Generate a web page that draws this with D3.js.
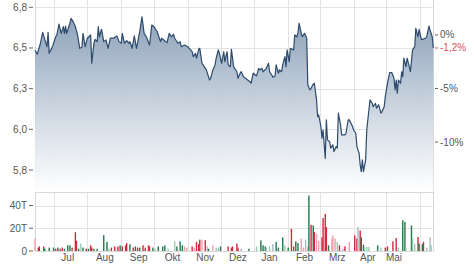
<!DOCTYPE html>
<html><head><meta charset="utf-8">
<script src="https://cdn.jsdelivr.net/npm/d3@7"></script>
<style>
body{margin:0;background:#fff;}
svg{display:block;}
text{font-family:"Liberation Sans",Arial,sans-serif;font-size:10px;fill:#555;}
</style>
</head><body>
<svg id="chart" width="474" height="269"></svg>
<script>
// ---------- DATA ----------
const priceDates = [
"2019-06-14","2019-06-16","2019-06-19","2019-06-21","2019-06-25","2019-06-26","2019-06-27","2019-06-30",
"2019-07-03","2019-07-04","2019-07-06","2019-07-08","2019-07-10","2019-07-11","2019-07-12","2019-07-13","2019-07-16","2019-07-17","2019-07-19","2019-07-21","2019-07-23","2019-07-25","2019-07-27","2019-07-28","2019-07-30",
"2019-08-01","2019-08-04","2019-08-05","2019-08-07","2019-08-08","2019-08-10","2019-08-11","2019-08-12","2019-08-14","2019-08-16","2019-08-18","2019-08-20","2019-08-22","2019-08-25","2019-08-28","2019-08-30",
"2019-09-01","2019-09-02","2019-09-04","2019-09-06","2019-09-08","2019-09-09","2019-09-11","2019-09-13","2019-09-15","2019-09-18","2019-09-20","2019-09-22","2019-09-24","2019-09-27","2019-09-29",
"2019-10-01","2019-10-04","2019-10-07","2019-10-08","2019-10-10","2019-10-13","2019-10-15","2019-10-17","2019-10-19","2019-10-20","2019-10-23","2019-10-25","2019-10-26","2019-10-29",
"2019-11-01","2019-11-05","2019-11-06","2019-11-08","2019-11-09","2019-11-11","2019-11-12","2019-11-14","2019-11-15","2019-11-18","2019-11-21","2019-11-22","2019-11-24","2019-11-26","2019-11-27","2019-11-29","2019-11-30",
"2019-12-02","2019-12-04","2019-12-05","2019-12-07","2019-12-08","2019-12-10","2019-12-11","2019-12-13","2019-12-16","2019-12-17","2019-12-19","2019-12-20","2019-12-22","2019-12-25","2019-12-28","2019-12-29","2019-12-31",
"2020-01-03","2020-01-05","2020-01-06","2020-01-08","2020-01-09","2020-01-12","2020-01-14","2020-01-15","2020-01-17","2020-01-18","2020-01-20","2020-01-21","2020-01-23","2020-01-24","2020-01-26","2020-01-27","2020-01-29","2020-01-30","2020-01-31",
"2020-02-02","2020-02-03","2020-02-06","2020-02-07","2020-02-09","2020-02-10","2020-02-11","2020-02-13","2020-02-14","2020-02-16","2020-02-18","2020-02-19","2020-02-21","2020-02-22","2020-02-24","2020-02-25","2020-02-27","2020-02-28","2020-02-29",
"2020-03-02","2020-03-03","2020-03-04","2020-03-06","2020-03-07","2020-03-08","2020-03-10","2020-03-11","2020-03-13","2020-03-14","2020-03-16","2020-03-17","2020-03-18","2020-03-20","2020-03-21","2020-03-24","2020-03-25","2020-03-27","2020-03-28","2020-03-31",
"2020-04-01","2020-04-03","2020-04-04","2020-04-06","2020-04-07","2020-04-08","2020-04-09","2020-04-10","2020-04-12","2020-04-13","2020-04-15","2020-04-16","2020-04-18","2020-04-19","2020-04-21","2020-04-22","2020-04-24","2020-04-26","2020-04-27","2020-04-29","2020-04-30",
"2020-05-02","2020-05-04","2020-05-06","2020-05-08","2020-05-09","2020-05-10","2020-05-11","2020-05-12","2020-05-14","2020-05-15","2020-05-16","2020-05-17","2020-05-19","2020-05-20","2020-05-22","2020-05-23","2020-05-25","2020-05-27","2020-05-28","2020-05-30","2020-05-31",
"2020-06-02","2020-06-03","2020-06-06","2020-06-07","2020-06-09","2020-06-10","2020-06-12","2020-06-13"
];
const priceValues = [
6.488,6.461,6.529,6.596,6.508,6.596,6.467,6.508,
6.569,6.580,6.647,6.590,6.631,6.590,6.635,6.590,6.652,6.682,6.662,6.631,6.580,6.498,6.504,6.590,6.508,
6.560,6.580,6.406,6.529,6.553,6.539,6.631,6.569,6.615,6.539,6.549,6.498,6.560,6.560,6.574,6.539,
6.529,6.590,6.529,6.545,6.529,6.539,6.498,6.574,6.498,6.600,6.692,6.590,6.569,6.518,6.641,
6.631,6.600,6.539,6.560,6.549,6.533,6.590,6.569,6.584,6.560,6.529,6.539,6.508,6.518,
6.508,6.477,6.447,6.467,6.437,6.492,6.498,6.406,6.396,6.365,6.303,6.314,6.365,6.396,6.437,6.488,6.467,
6.406,6.477,6.416,6.477,6.396,6.385,6.492,6.385,6.354,6.314,6.345,6.354,6.324,6.308,6.293,6.283,6.345,
6.328,6.375,6.365,6.375,6.354,6.375,6.406,6.354,6.334,6.320,6.328,6.396,6.345,6.365,6.354,6.396,6.447,6.385,6.488,
6.416,6.498,6.488,6.580,6.569,6.594,6.652,6.590,6.569,6.590,6.560,6.273,6.242,6.252,6.279,6.283,6.181,6.078,6.088,
6.017,5.945,5.996,5.822,6.058,5.935,5.924,5.884,5.904,5.863,5.894,5.884,6.099,6.027,5.966,5.966,5.976,6.058,6.058,6.017,
5.996,5.976,5.894,5.853,5.781,5.740,5.812,5.740,5.812,5.996,6.119,6.181,6.160,6.139,6.160,6.130,6.150,6.099,6.109,6.139,6.201,
6.283,6.348,6.348,6.314,6.242,6.303,6.222,6.303,6.283,6.354,6.324,6.437,6.385,6.437,6.385,6.354,6.488,6.508,6.621,6.569,6.615,
6.553,6.553,6.560,6.569,6.635,6.611,6.569,6.500
];

// volume in thousands (T); kind: d=down, u=up, dl=down light, ul=up light, n=neutral
const volDates = [
"2019-06-14","2019-06-17","2019-06-18","2019-06-22","2019-06-23","2019-06-27","2019-07-01","2019-07-03","2019-07-05","2019-07-07","2019-07-09","2019-07-11","2019-07-14","2019-07-16","2019-07-18","2019-07-21","2019-07-22","2019-07-24","2019-07-26","2019-07-28","2019-07-31",
"2019-08-02","2019-08-04","2019-08-05","2019-08-07","2019-08-10","2019-08-16","2019-08-19","2019-08-21","2019-08-23","2019-08-26","2019-08-27","2019-08-29","2019-08-31",
"2019-09-02","2019-09-05","2019-09-06","2019-09-09","2019-09-12","2019-09-14","2019-09-16","2019-09-18","2019-09-21","2019-09-23","2019-09-26","2019-09-27","2019-09-30",
"2019-10-02","2019-10-05","2019-10-09","2019-10-11","2019-10-14","2019-10-20","2019-10-22","2019-10-25","2019-10-27","2019-10-29","2019-10-31",
"2019-11-05","2019-11-07","2019-11-09","2019-11-11","2019-11-12","2019-11-14","2019-11-17","2019-11-19","2019-11-20","2019-11-24","2019-11-27","2019-11-29",
"2019-12-01","2019-12-08","2019-12-11","2019-12-12","2019-12-16","2019-12-17","2019-12-20","2019-12-27",
"2020-01-03","2020-01-07","2020-01-09","2020-01-11","2020-01-12","2020-01-15","2020-01-18","2020-01-21","2020-01-23","2020-01-27","2020-01-29",
"2020-02-01","2020-02-04","2020-02-06","2020-02-08","2020-02-10","2020-02-13","2020-02-15","2020-02-17","2020-02-19","2020-02-20","2020-02-22","2020-02-24","2020-02-25","2020-02-27","2020-02-29",
"2020-03-03","2020-03-04","2020-03-06","2020-03-07","2020-03-09","2020-03-12","2020-03-13","2020-03-15","2020-03-17","2020-03-19","2020-03-22","2020-03-24","2020-03-28",
"2020-04-02","2020-04-04","2020-04-05","2020-04-07","2020-04-08","2020-04-10","2020-04-11","2020-04-13","2020-04-15","2020-04-23","2020-04-26","2020-04-30",
"2020-05-02","2020-05-07","2020-05-10","2020-05-12","2020-05-16","2020-05-18","2020-05-19","2020-05-24","2020-05-25","2020-05-27","2020-05-30","2020-05-31",
"2020-06-03","2020-06-04","2020-06-07","2020-06-10","2020-06-11"
];
const volValues = [
11,3,4,4,2,3,3,2,3,2,3,2,5,5,3,16.5,9,2,6.5,3,2,
2,5,3,2,2,14,8,2,3,4,3,4,5,
4,5,7,6,3,4,3,3,5,3,5,4,3,
2,4,4,5,2,8.5,4,8.5,5,4,3,
4,3,8,6,10,10,9.5,4,2,5,3,3,
4,4,3,4,6.5,3,2,2,
4,9.3,5,4,3,4,6,8,3,12,5,
3,19.6,4,8.5,7,11,3,10,4,48.8,23,22.5,16.7,15,9,
12,29,32.7,21,5,11,13.7,11,8,5,2,4,8,
13.7,11,21,18,12,5.5,3.5,3.5,3.5,5,3,3,
4,8.5,11.4,3,27,25.5,3,22.5,11,6,12.3,6.5,
6,8,3,12.3,5
];
const volKinds = [
"dl","d","d","d","u","u","u","d","u","d","d","u","u","u","d","d","d","u","ul","u","d",
"u","d","d","u","u","u","u","ul","d","d","dl","d","u",
"d","d","d","u","d","u","d","u","d","d","d","d","u",
"ul","u","u","u","ul","ul","u","u","u","dl","dl",
"d","dl","d","d","d","dl","d","dl","u","dl","ul","n",
"u","d","d","d","d","d","n","u",
"ul","u","u","u","n","ul","n","u","u","u","ul",
"u","d","d","u","u","dl","dl","n","dl","u","d","u","d","dl","dl",
"d","d","d","d","u","dl","dl","dl","ul","d","n","d","dl",
"d","d","n","d","u","u","ul","ul","ul","u","ul","d",
"d","d","d","ul","u","u","ul","u","ul","ul","d","u",
"u","d","n","n","ul"
];

const yTicks = [5.75, 6.0, 6.25, 6.5, 6.75];
const yTickLabels = ["5,8", "6,0", "6,3", "6,5", "6,8"];
const volTicks = [0, 20, 40];
const volTickLabels = ["0", "20T", "40T"];
const pctTicks = [0, -5, -10];
const pctTickLabels = ["0%", "-5%", "-10%"];
const refPrice = 6.58;
const lastPctLabel = "-1,2%";
const monthStarts = ["2019-07-01","2019-08-01","2019-09-01","2019-10-01","2019-11-01","2019-12-01","2020-01-01","2020-02-01","2020-03-01","2020-04-01","2020-05-01","2020-06-01"];
const monthLabels = ["Jul","Aug","Sep","Okt","Nov","Dez","Jan","Feb","Mrz","Apr","Mai"];
const monthLabelDates = ["2019-07-14","2019-08-17","2019-09-17","2019-10-18","2019-11-17","2019-12-17","2020-01-15","2020-02-16","2020-03-17","2020-04-14","2020-05-08"];

// ---------- DRAW ----------
const parse = d3.utcParse("%Y-%m-%d");
const prices = priceDates.map((d, i) => ({date: parse(d), v: priceValues[i]}));
const vols = volDates.map((d, i) => ({date: parse(d), v: volValues[i], k: volKinds[i]}));

const svg = d3.select("#chart");
const L = 35, R = 433.3, priceBottom = 192, volBottom = 251;

const x = d3.scaleUtc().domain([parse("2019-06-14"), parse("2020-06-13")]).range([L, R]);
const y = d3.scaleLinear().domain([5.75, 6.75]).range([170, 7.3]);
const vy = d3.scaleLinear().domain([0, 40]).range([volBottom, 205.5]);

const grid = "#e3e3e3";
const g = svg.append("g");

// vertical month gridlines
g.selectAll(".vg").data(monthStarts).join("line")
  .attr("x1", d => Math.round(x(parse(d))) + 0.5).attr("x2", d => Math.round(x(parse(d))) + 0.5)
  .attr("y1", 0).attr("y2", volBottom).attr("stroke", grid);

// horizontal gridlines price
g.selectAll(".hg").data(yTicks).join("line")
  .attr("x1", L).attr("x2", R)
  .attr("y1", d => Math.round(y(d)) + 0.5).attr("y2", d => Math.round(y(d)) + 0.5)
  .attr("stroke", grid);
// volume gridlines
g.selectAll(".vhg").data(volTicks.filter(d => d > 0)).join("line")
  .attr("x1", L).attr("x2", R)
  .attr("y1", d => Math.round(vy(d)) + 0.5).attr("y2", d => Math.round(vy(d)) + 0.5)
  .attr("stroke", grid);
// panel borders
[priceBottom, volBottom].forEach(yy => g.append("line").attr("x1", L).attr("x2", R)
  .attr("y1", yy + 0.5).attr("y2", yy + 0.5).attr("stroke", "#d8d8d8"));
[L, R].forEach(xx => g.append("line").attr("x1", Math.round(xx) + 0.5).attr("x2", Math.round(xx) + 0.5)
  .attr("y1", 0).attr("y2", volBottom).attr("stroke", "#d8d8d8"));

// gradient
const defs = svg.append("defs");
const grad = defs.append("linearGradient").attr("id", "ag")
  .attr("gradientUnits", "userSpaceOnUse").attr("x1", 0).attr("x2", 0).attr("y1", 10).attr("y2", priceBottom);
grad.append("stop").attr("offset", 0).attr("stop-color", "#7f96b1");
grad.append("stop").attr("offset", 0.55).attr("stop-color", "#c9d3de");
grad.append("stop").attr("offset", 1).attr("stop-color", "#ffffff");

const area = d3.area().x(d => x(d.date)).y0(priceBottom).y1(d => y(d.v));
svg.append("path").datum(prices).attr("d", area).attr("fill", "url(#ag)").attr("fill-opacity", 0.92);
const line = d3.line().x(d => x(d.date)).y(d => y(d.v));
svg.append("path").datum(prices).attr("d", line).attr("fill", "none")
  .attr("stroke", "#2c4a6c").attr("stroke-width", 1.2).attr("stroke-linejoin", "round");

// volume bars
const kindColor = {d: "#d3283e", u: "#1f7a4d", dl: "#efa1ab", ul: "#98cdb0", n: "#a7b7c4"};
svg.selectAll(".vb").data(vols).join("rect")
  .attr("x", d => x(d.date) - 0.7).attr("width", 1.4)
  .attr("y", d => vy(d.v)).attr("height", d => volBottom - vy(d.v))
  .attr("fill", d => kindColor[d.k]);

// left axis (price)
const la = svg.append("g");
yTicks.forEach((t, i) => {
  const yy = y(t);
  la.append("line").attr("x1", 29).attr("x2", 33).attr("y1", yy).attr("y2", yy).attr("stroke", "#666");
  la.append("text").attr("x", 27).attr("y", yy).attr("dy", "0.35em").attr("text-anchor", "end").text(yTickLabels[i]);
});
volTicks.forEach((t, i) => {
  const yy = vy(t);
  la.append("line").attr("x1", 29).attr("x2", 33).attr("y1", yy).attr("y2", yy).attr("stroke", "#666");
  la.append("text").attr("x", 27).attr("y", yy).attr("dy", "0.35em").attr("text-anchor", "end").text(volTickLabels[i]);
});

// right axis (percent)
const ra = svg.append("g");
pctTicks.forEach((p, i) => {
  const yy = y(refPrice * (1 + p / 100));
  ra.append("line").attr("x1", 435).attr("x2", 438).attr("y1", yy).attr("y2", yy).attr("stroke", "#666");
  ra.append("text").attr("x", 440).attr("y", yy).attr("dy", "0.35em").text(pctTickLabels[i]);
});
const lastY = y(priceValues[priceValues.length - 1]);
ra.append("line").attr("x1", 435).attr("x2", 438).attr("y1", lastY).attr("y2", lastY).attr("stroke", "#e0505e");
ra.append("text").attr("x", 440).attr("y", lastY).attr("dy", "0.35em").style("fill", "#e0505e").text(lastPctLabel);

// month labels
svg.selectAll(".ml").data(monthLabels).join("text")
  .attr("x", (d, i) => x(parse(monthLabelDates[i]))).attr("y", 261)
  .attr("text-anchor", "middle").text(d => d);
</script>
</body></html>
